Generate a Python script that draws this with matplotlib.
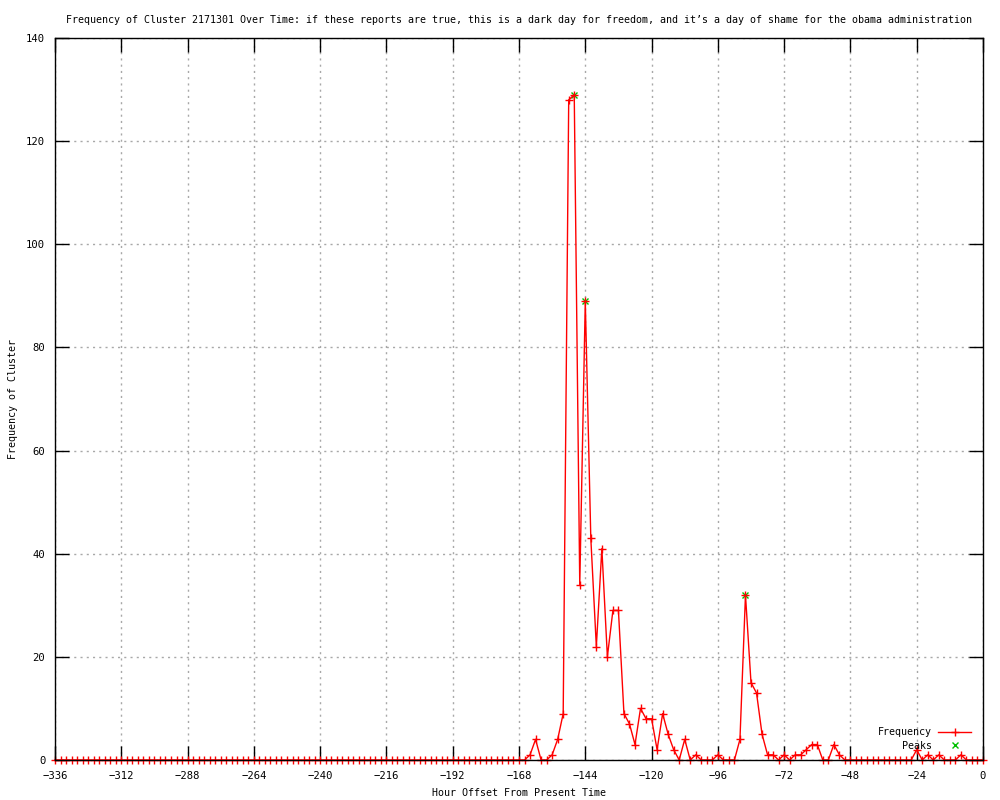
import numpy as np
import matplotlib
matplotlib.use("Agg")
import matplotlib.pyplot as plt

hours = np.arange(-336, 1, 2)
frequency = [
    0, 0, 0, 0, 0, 0, 0, 0, 0, 0, 0, 0, 0, 0, 0, 0, 0, 0, 0, 0,
    0, 0, 0, 0, 0, 0, 0, 0, 0, 0, 0, 0, 0, 0, 0, 0, 0, 0, 0, 0,
    0, 0, 0, 0, 0, 0, 0, 0, 0, 0, 0, 0, 0, 0, 0, 0, 0, 0, 0, 0,
    0, 0, 0, 0, 0, 0, 0, 0, 0, 0, 0, 0, 0, 0, 0, 0, 0, 0, 0, 0,
    0, 0, 0, 0, 0,
    0, 1, 4, 0, 0, 1, 4, 9,
    128, 129, 34, 89, 43, 22, 41, 20, 29, 29,
    9, 7, 3, 10, 8, 8, 2, 9, 5, 2,
    0, 4, 0, 1, 0, 0, 0, 1, 0, 0,
    0, 4, 32, 15, 13, 5, 1, 1, 0, 1,
    0, 1, 1, 2, 3, 3, 0, 0, 3, 1,
    0, 0, 0, 0, 0, 0, 0, 0, 0, 0, 0, 0, 0,
    2, 0, 1, 0, 1, 0, 0, 0, 1, 0, 0, 0, 0,
]
peak_hours = [-148, -144, -86]
peak_values = [129, 89, 32]

title = ("Frequency of Cluster 2171301 Over Time: if these reports are true, this is a dark day "
         "for freedom, and it\u2019s a day of shame for the obama administration")
xticks = list(range(-336, 1, 24))
yticks = list(range(0, 141, 20))

FONT = "DejaVu Sans Mono"
FS = 7.2
plt.rcParams['font.family'] = [FONT, 'DejaVu Sans']

fig = plt.figure(figsize=(10, 8), dpi=100)
ax = fig.add_axes([0.055, 0.05, 0.928, 0.9025])

ax.plot(hours, frequency, color='#ff0000', lw=1.0, marker='+', ms=5.5, mew=1.0,
        clip_on=False, zorder=4, label='Frequency')
ax.plot(peak_hours, peak_values, linestyle='none', color='#00c000', marker='x', ms=5,
        mew=1.0, clip_on=False, zorder=3, label='Peaks')

ax.set_xlim(-336, 0)
ax.set_ylim(0, 140)
ax.set_xticks(xticks)
ax.set_yticks(yticks)
ax.tick_params(direction='in', length=10, width=1, top=True, right=True,
               labelsize=7.6, colors='black')
ax.tick_params(axis='x', pad=8)
ax.tick_params(axis='y', pad=7)
for lab in ax.get_xticklabels() + ax.get_yticklabels():
    lab.set_family(FONT)

ax.grid(True, color='#a8a8a8', linestyle=(0, (1.5, 3)), linewidth=1.0)
ax.set_axisbelow(True)
for s in ax.spines.values():
    s.set_linewidth(1.0)
    s.set_zorder(5)

ax.set_title(title, fontsize=FS, family=FONT, pad=11)
ax.set_xlabel("Hour Offset From Present Time", fontsize=FS, family=FONT, labelpad=5)
ax.set_ylabel("Frequency of Cluster", fontsize=FS, family=FONT, labelpad=6)

leg = ax.legend(loc='lower right', frameon=False, markerfirst=False, fontsize=FS,
                handlelength=3.3, numpoints=1, borderaxespad=0.3, labelspacing=0.35,
                handletextpad=0.6, bbox_to_anchor=(0.995, 0.003))

fig.savefig("out.png", dpi=100)
